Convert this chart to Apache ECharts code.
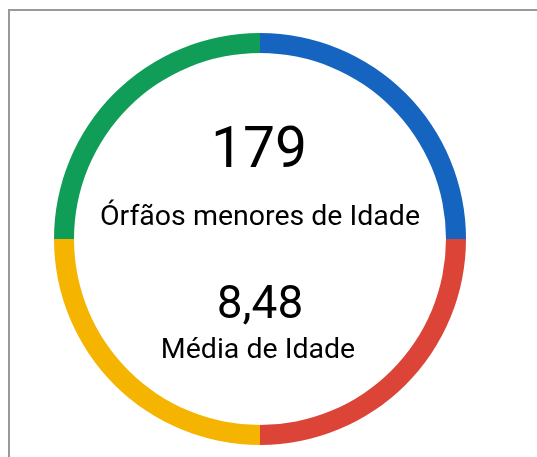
<!DOCTYPE html>
<html>
<head>
<meta charset="utf-8">
<script src="https://cdn.jsdelivr.net/npm/echarts@6/dist/echarts.min.js"></script>
<style>
html,body{margin:0;padding:0;background:#fff;}
#c{width:537px;height:457px;}
</style>
</head>
<body>
<div id="c"></div>
<script>
const segmentNames = ['Azul', 'Vermelho', 'Amarelo', 'Verde'];
const segmentValues = [25, 25, 25, 25];
const segmentColors = ['#1565C0', '#DB4437', '#F4B400', '#0F9D58'];
const kpiValues = ['179', '8,48'];
const kpiLabels = ['Órfãos menores de Idade', 'Média de Idade'];

const chart = echarts.init(document.getElementById('c'));
const cx = 260, cy = 239;
const font = 'Roboto, "Noto Sans", sans-serif';
chart.setOption({
  animation: false,
  backgroundColor: '#fff',
  series: [{
    type: 'pie',
    center: [cx, cy],
    radius: [186, 206],
    startAngle: 90,
    clockwise: true,
    silent: true,
    label: { show: false },
    labelLine: { show: false },
    itemStyle: { borderWidth: 0 },
    data: segmentNames.map((n, i) => ({ name: n, value: segmentValues[i], itemStyle: { color: segmentColors[i] } }))
  }],
  graphic: [
    { type: 'rect', shape: { x: 9, y: 10, width: 700, height: 700 }, style: { fill: 'none', stroke: '#999999', lineWidth: 2 }, silent: true },
    { type: 'text', x: cx - 1, y: 181, style: { text: kpiValues[0], font: '57px ' + font, fill: '#000', textAlign: 'center', textVerticalAlign: 'bottom' } },
    { type: 'text', x: cx, y: 232, style: { text: kpiLabels[0], font: '28.5px ' + font, fill: '#000', textAlign: 'center', textVerticalAlign: 'bottom' } },
    { type: 'text', x: cx, y: 329, style: { text: kpiValues[1], font: '46px ' + font, fill: '#000', textAlign: 'center', textVerticalAlign: 'bottom' } },
    { type: 'text', x: cx - 2, y: 365, style: { text: kpiLabels[1], font: '28.5px ' + font, fill: '#000', textAlign: 'center', textVerticalAlign: 'bottom' } }
  ]
});
</script>
</body>
</html>
